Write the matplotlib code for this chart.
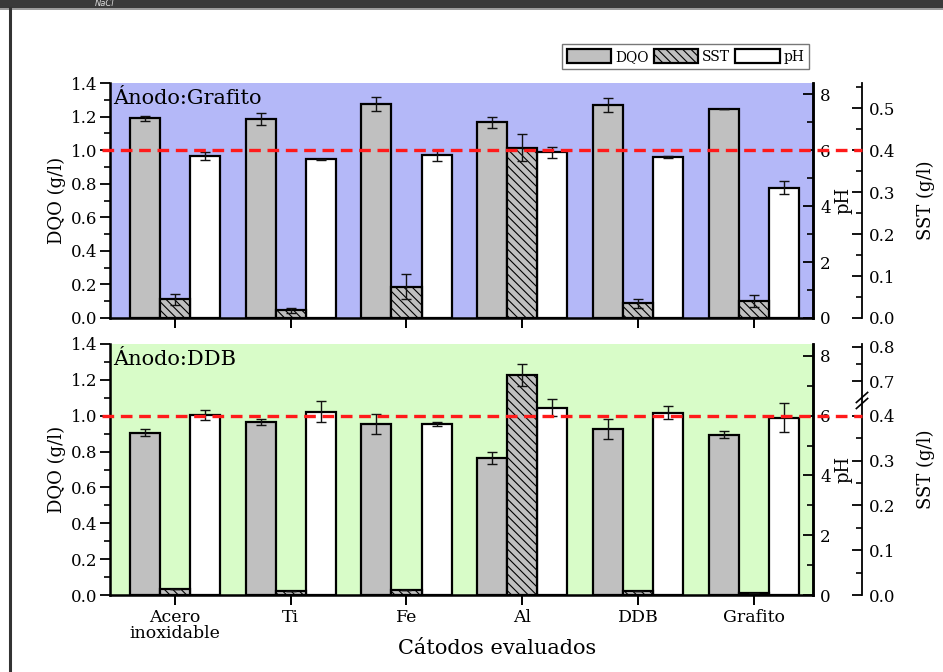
import numpy as np
import matplotlib
matplotlib.use('Agg')
import matplotlib.pyplot as plt
from matplotlib.patches import Patch, Rectangle
from matplotlib.lines import Line2D
import matplotlib.transforms as mtransforms

plt.rcParams['font.family'] = ['DejaVu Serif']
plt.rcParams['hatch.linewidth'] = 0.8
plt.rcParams['hatch.color'] = '#222222'

categories = ['Acero\ninoxidable', 'Ti', 'Fe', 'Al', 'DDB', 'Grafito']

# Ánodo: Grafito
dqo_graf = [1.189, 1.185, 1.274, 1.167, 1.270, 1.247]
dqo_graf_err = [0.015, 0.035, 0.040, 0.033, 0.040, 0.0]
sst_graf = [0.0445, 0.019, 0.075, 0.406, 0.035, 0.041]
sst_graf_err = [0.013, 0.006, 0.030, 0.032, 0.010, 0.015]
ph_graf = [5.78, 5.68, 5.81, 5.92, 5.75, 4.65]
ph_graf_err = [0.14, 0.02, 0.20, 0.20, 0.03, 0.23]

# Ánodo: DDB
dqo_ddb = [0.905, 0.965, 0.954, 0.764, 0.927, 0.894]
dqo_ddb_err = [0.019, 0.016, 0.056, 0.036, 0.056, 0.021]
sst_ddb = [0.013, 0.009, 0.012, 0.719, 0.010, 0.005]
sst_ddb_err = [0.0, 0.0, 0.0, 0.032, 0.0, 0.0]
ph_ddb = [6.03, 6.14, 5.71, 6.27, 6.10, 5.94]
ph_ddb_err = [0.16, 0.36, 0.07, 0.29, 0.22, 0.47]

W, H = 943, 672
fig = plt.figure(figsize=(W / 100, H / 100), dpi=100)

L, R = 110, 813
SST_X = 862
ax_w = (R - L) / W
ax_top = fig.add_axes([L / W, 1 - 318 / H, ax_w, (318 - 83) / H])
ax_bot = fig.add_axes([L / W, 1 - 595 / H, ax_w, (595 - 344) / H])

sst_off = (SST_X - L) / (R - L)

# broken scale for SST in lower panel
brk_v = [0.0, 0.433, 0.645, 1.0]
brk_u = [0.0, 0.433, 0.434, 0.434 + 0.355 * 0.77]


def fwd(v):
    return np.interp(np.asarray(v, dtype=float), brk_v, brk_u)


def inv(u):
    return np.interp(np.asarray(u, dtype=float), brk_u, brk_v)


ekw = dict(ecolor='#111111', elinewidth=1.0, capsize=3.5, capthick=1.0)
TICK_FS = 12


def panel(ax, dqo, dqo_e, sst, sst_e, ph, ph_e, bg, title, broken, show_xlabels):
    x = np.arange(len(categories))
    w = 0.26
    ax.set_facecolor(bg)
    ax.bar(x - w, dqo, w, yerr=dqo_e, color='#c0c0c0', edgecolor='black',
           linewidth=1.6, error_kw=ekw, zorder=2)
    ax.set_ylim(0, 1.4)
    ax.set_xlim(-0.56, 5.51)
    ax.set_yticks(np.arange(0, 1.41, 0.2))
    ax.set_yticks(np.arange(0, 1.41, 0.1), minor=True)
    ax.yaxis.set_major_formatter(matplotlib.ticker.FormatStrFormatter('%.1f'))
    ax.set_xticks(x)
    if show_xlabels:
        ax.set_xticklabels(categories, fontsize=12.5, linespacing=0.95)
        ax.set_xlabel('Cátodos evaluados', fontsize=15)
        ax.xaxis.set_label_coords(0.55, -0.175)
    else:
        ax.set_xticklabels([])
    ax.tick_params(axis='x', direction='out', length=7, width=1.4, pad=3)
    ax.tick_params(axis='y', which='major', direction='out', length=7, width=1.3,
                   labelsize=TICK_FS, pad=2)
    ax.tick_params(axis='y', which='minor', direction='out', length=4.5, width=1.2)
    ax.spines['top'].set_visible(False)
    for s in ['left', 'bottom', 'right']:
        ax.spines[s].set_linewidth(1.8)
    ax.set_ylabel('DQO (g/l)', fontsize=13)
    ax.yaxis.set_label_coords(-0.062, 0.5)
    ax.text(0.005, 0.975, title, transform=ax.transAxes, fontsize=15,
            va='top', ha='left')

    ax_ph = ax.twinx()
    ax_ph.bar(x + w, ph, w, yerr=ph_e, color='white', edgecolor='black',
              linewidth=1.6, error_kw=ekw, zorder=2)
    ax_ph.set_ylim(0, 8.4)
    ax_ph.set_yticks([0, 2, 4, 6, 8])
    ax_ph.set_yticks(np.arange(0, 8.5, 1), minor=True)
    ax_ph.tick_params(axis='y', which='major', direction='in', length=7, width=1.3,
                      labelsize=TICK_FS, pad=5)
    ax_ph.tick_params(axis='y', which='minor', direction='in', length=4.5, width=1.2)
    ax_ph.spines['top'].set_visible(False)
    ax_ph.spines['right'].set_linewidth(1.8)
    ax_ph.set_ylabel('pH', fontsize=13)
    ax_ph.yaxis.set_label_coords(1.031, 0.5)

    ax_sst = ax.twinx()
    if broken:
        ax_sst.set_yscale('function', functions=(fwd, inv))
    ax_sst.bar(x, sst, w, yerr=sst_e, color='#c0c0c0', edgecolor='black',
               hatch='\\\\\\\\', linewidth=1.6, error_kw=ekw, zorder=2)
    for s in ['left', 'top', 'bottom']:
        ax_sst.spines[s].set_visible(False)
    ax_sst.spines['right'].set_position(('axes', sst_off))
    ax_sst.spines['right'].set_linewidth(1.3)
    if broken:
        top_v = inv(0.56)
        ax_sst.set_ylim(0, float(top_v))
        ax_sst.set_yticks([0.0, 0.1, 0.2, 0.3, 0.4, 0.7, 0.8])
        ax_sst.set_yticks([0.05, 0.15, 0.25, 0.35, 0.75], minor=True)
    else:
        ax_sst.set_ylim(0, 0.56)
        ax_sst.set_yticks(np.arange(0, 0.51, 0.1))
        ax_sst.set_yticks(np.arange(0.05, 0.56, 0.1), minor=True)
    ax_sst.yaxis.set_major_formatter(matplotlib.ticker.FormatStrFormatter('%.1f'))
    ax_sst.yaxis.set_minor_formatter(matplotlib.ticker.NullFormatter())
    ax_sst.tick_params(axis='y', which='major', direction='in', length=7, width=1.3,
                       labelsize=TICK_FS, pad=5)
    ax_sst.tick_params(axis='y', which='minor', direction='in', length=4.5, width=1.2)
    ax_sst.set_ylabel('SST (g/l)', fontsize=13)
    ax_sst.yaxis.set_label_coords(1.148, 0.5)

    # red reference line at DQO = 1.0
    tr = mtransforms.blended_transform_factory(ax_sst.transAxes, ax.transData)
    ax_sst.plot([-0.012, sst_off], [1.0, 1.0], transform=tr, color='#ff1a1a',
                lw=2.4, linestyle=(0, (3.5, 2.0)), clip_on=False, zorder=10)

    if broken:
        yb = 0.434 / 0.56
        for dy in (-0.012, 0.012):
            ax_sst.plot([sst_off - 0.008, sst_off + 0.008],
                        [yb + dy - 0.02, yb + dy + 0.02],
                        transform=ax_sst.transAxes, color='black', lw=1.2,
                        clip_on=False, zorder=11)
    return ax_ph, ax_sst


panel(ax_top, dqo_graf, dqo_graf_err, sst_graf, sst_graf_err, ph_graf, ph_graf_err,
      '#b4b8f8', 'Ánodo:Grafito', False, False)
panel(ax_bot, dqo_ddb, dqo_ddb_err, sst_ddb, sst_ddb_err, ph_ddb, ph_ddb_err,
      '#d8fcc8', 'Ánodo:DDB', True, True)

handles = [Patch(facecolor='#c0c0c0', edgecolor='black', linewidth=1.6),
           Patch(facecolor='#c0c0c0', edgecolor='black', linewidth=1.6, hatch='\\\\\\\\'),
           Patch(facecolor='white', edgecolor='black', linewidth=1.6)]
leg = fig.legend(handles, ['DQO', 'SST', 'pH'], loc='center', ncol=3,
                 bbox_to_anchor=(685.5 / W, 1 - 56.5 / H), fontsize=10,
                 frameon=True, fancybox=False, edgecolor='#555555',
                 handlelength=3.2, handleheight=1.2, handletextpad=0.25,
                 columnspacing=0.4, borderpad=0.35)
leg.get_frame().set_linewidth(1.0)

# screenshot header bar and left frame
fig.add_artist(Rectangle((0, 1 - 8 / H), 1, 8 / H, transform=fig.transFigure,
                         facecolor='#3a3a3a', edgecolor='none', zorder=20))
fig.add_artist(Line2D([0, 1], [1 - 9 / H, 1 - 9 / H], transform=fig.transFigure,
                      color='#8a8a8a', lw=1.2, zorder=20))
fig.add_artist(Line2D([10 / W, 10 / W], [0, 1 - 8 / H], transform=fig.transFigure,
                      color='#333333', lw=2.2, zorder=20))
fig.text(95 / W, 1 - 3 / H, 'NaCl', color='#dddddd', fontsize=6, style='italic',
         ha='left', va='center', zorder=21, family='DejaVu Sans')

fig.savefig('out.png', dpi=100)
